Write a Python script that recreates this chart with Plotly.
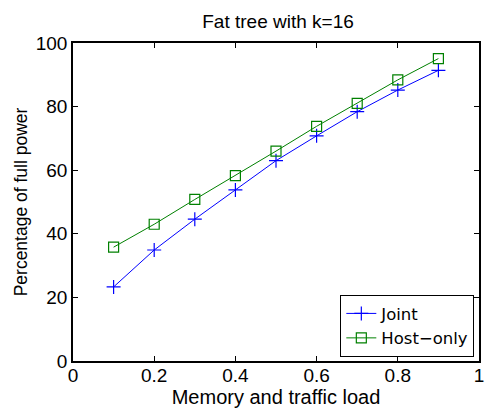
import plotly.graph_objects as go

load = [0.1, 0.2, 0.3, 0.4, 0.5, 0.6, 0.7, 0.8, 0.9]
joint = [23.3, 34.9, 44.6, 53.8, 63.0, 70.8, 78.4, 85.2, 91.4]
host_only = [35.8, 43.0, 50.8, 58.3, 66.0, 73.8, 81.0, 88.4, 95.1]
x_ticks = [0, 0.2, 0.4, 0.6, 0.8, 1]
x_ticktext = ["0", "0.2", "0.4", "0.6", "0.8", "1"]
y_ticks = [0, 20, 40, 60, 80, 100]

FONT = "Liberation Sans, Arial, Helvetica, sans-serif"
LEG_FONT = "DejaVu Sans, Liberation Sans, sans-serif"

fig = go.Figure()
fig.add_trace(go.Scatter(
    x=load, y=joint, name="Joint", mode="lines+markers",
    line=dict(color="#0000ff", width=1),
    marker=dict(symbol="cross-thin", size=10, line=dict(color="#0000ff", width=1.2)),
))
fig.add_trace(go.Scatter(
    x=load, y=host_only, name="Host\u2212only", mode="lines+markers",
    line=dict(color="#008000", width=1),
    marker=dict(symbol="square-open", size=10, color="#008000", line=dict(width=1.2)),
))

axis_common = dict(
    showgrid=False, zeroline=False, showline=True, linecolor="black", linewidth=1.5,
    mirror="ticks", ticks="inside", ticklen=5, tickwidth=1, tickcolor="black",
)
fig.update_xaxes(range=[0, 1], tickvals=x_ticks, ticktext=x_ticktext,
                 tickfont=dict(family=FONT, size=19, color="black"),
                 ticklabelstandoff=-4,
                 title=dict(text="Memory and traffic load", font=dict(family=FONT, size=20, color="black"), standoff=0),
                 **axis_common)
fig.update_yaxes(range=[0, 100], tickvals=y_ticks,
                 tickfont=dict(family=FONT, size=19, color="black"),
                 title=dict(text="Percentage of full power", font=dict(family=FONT, size=17.5, color="black"), standoff=4),
                 **axis_common)

fig.update_layout(
    width=490, height=412,
    margin=dict(l=73, r=6, t=43, b=51),
    plot_bgcolor="white", paper_bgcolor="white",
    title=dict(text="Fat tree with k=16", x=0.5674, xanchor="center", y=0.948, yanchor="middle",
               font=dict(family=FONT, size=19, color="black")),
    legend=dict(x=0.988, y=0.0126, xanchor="right", yanchor="bottom",
                bgcolor="white", bordercolor="black", borderwidth=1.2,
                font=dict(family=LEG_FONT, size=16.5, color="black"),
                tracegroupgap=0, itemwidth=30),
    showlegend=True,
)

fig.write_html("out.html")
